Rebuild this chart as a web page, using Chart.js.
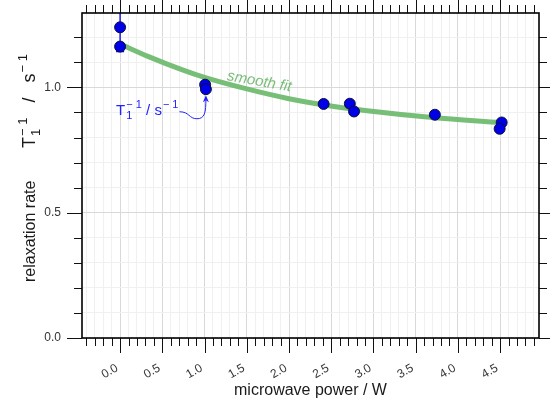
<!DOCTYPE html>
<html>
<head>
<meta charset="utf-8">
<script src="https://cdn.jsdelivr.net/npm/chart.js@4/dist/chart.umd.min.js"></script>
<style>
  html, body { margin: 0; padding: 0; background: #fff; }
  #wrap { width: 550px; height: 402px; }
</style>
</head>
<body>
<div id="wrap"><canvas id="rateChart" width="550" height="402"></canvas></div>
<script>
// measured relaxation rates vs microwave power
var powerW = [0, 0, 1.007, 1.016, 2.41, 2.72, 2.77, 3.727, 4.518, 4.494];
var rateVals = [1.240, 1.163, 1.011, 0.993, 0.934, 0.935, 0.904, 0.891, 0.860, 0.835];
var rateErr = [0.097, 0.015, 0, 0, 0, 0, 0, 0, 0, 0];

// smooth fit curve
var fitPower = [0, 0.33, 0.73, 1.0, 1.5, 2.0, 2.4, 2.9, 3.7, 4.5];
var fitRate = [1.173, 1.124, 1.071, 1.040, 0.994, 0.955, 0.931, 0.908, 0.880, 0.860];

// labelled tick values, minor ticks every 0.1
var xLabelValues = [0, 0.5, 1.0, 1.5, 2.0, 2.5, 3.0, 3.5, 4.0, 4.5];
var yLabelValues = [0, 0.5, 1.0];
var xRange = [-0.451, 4.96];
var yRange = [0, 1.297];

var FONT = "'Liberation Sans', Arial, sans-serif";
var FIT_COLOR = "rgba(112,186,112,0.95)";
var NOTE_COLOR = "#2222ff";

function isLabelled(v, list) {
  for (var i = 0; i < list.length; i++) {
    if (Math.abs(list[i] - v) < 1e-6) return true;
  }
  return false;
}

function isHalf(v) {
  return Math.abs(v * 2 - Math.round(v * 2)) < 1e-6;
}

function minorTicks(lo, hi) {
  var out = [];
  for (var k = Math.ceil(lo * 10); k <= Math.floor(hi * 10); k++) {
    out.push({ value: k / 10 });
  }
  return out;
}

// "T1^-1 / s^-1" with stacked sub/superscript
function drawRateUnit(ctx, x, y, size, small, sup, mid) {
  ctx.font = size + "px " + FONT;
  ctx.fillText("T", x, y);
  x += ctx.measureText("T").width + 1;
  ctx.font = small + "px " + FONT;
  ctx.fillText(sup, x, y - size * 0.42);
  ctx.fillText("1", x, y + size * 0.3);
  x += ctx.measureText(sup).width;
  ctx.font = size + "px " + FONT;
  ctx.fillText(mid, x, y);
  x += ctx.measureText(mid).width + 1;
  ctx.font = small + "px " + FONT;
  ctx.fillText(sup, x, y - size * 0.42);
  x += ctx.measureText(sup).width;
  return x;
}

var framePlugin = {
  id: "frame",
  beforeDatasetDraw: function (chart, args) {
    if (args.index !== 1) return;
    // error bars go under the points
    var ctx = chart.ctx, a = chart.chartArea;
    var xs = chart.scales.x, ys = chart.scales.y;
    ctx.save();
    ctx.beginPath();
    ctx.rect(a.left, a.top, a.right - a.left, a.bottom - a.top);
    ctx.clip();
    ctx.strokeStyle = "#0000ee";
    ctx.lineWidth = 1.3;
    for (var i = 0; i < powerW.length; i++) {
      if (!rateErr[i]) continue;
      var px = xs.getPixelForValue(powerW[i]);
      var y1 = ys.getPixelForValue(rateVals[i] + rateErr[i]);
      var y2 = ys.getPixelForValue(rateVals[i] - rateErr[i]);
      ctx.beginPath();
      ctx.moveTo(px, y1); ctx.lineTo(px, y2);
      ctx.moveTo(px - 4, y1); ctx.lineTo(px + 4, y1);
      ctx.moveTo(px - 4, y2); ctx.lineTo(px + 4, y2);
      ctx.stroke();
    }
    ctx.restore();
  },
  afterDatasetsDraw: function (chart) {
    var ctx = chart.ctx;
    var xs = chart.scales.x, ys = chart.scales.y;

    // fit label along the curve
    ctx.save();
    ctx.translate(xs.getPixelForValue(1.648), ys.getPixelForValue(1.023));
    ctx.rotate(10 * Math.PI / 180);
    ctx.font = "italic 15px " + FONT;
    ctx.fillStyle = FIT_COLOR;
    ctx.textAlign = "center";
    ctx.textBaseline = "middle";
    ctx.fillText("smooth fit", 0, 0);
    ctx.restore();

    // unit note with arrow to the 1 W point
    ctx.save();
    ctx.fillStyle = NOTE_COLOR;
    ctx.strokeStyle = NOTE_COLOR;
    ctx.textBaseline = "alphabetic";
    ctx.textAlign = "left";
    var nx = xs.getPixelForValue(-0.047), ny = ys.getPixelForValue(0.891);
    var endX = drawRateUnit(ctx, nx, ny, 15, 11, "\u2212 1", " / s");
    var sx = endX + 1, sy = ny - 3;
    var tx = xs.getPixelForValue(powerW[3]);
    var ty = ys.getPixelForValue(rateVals[3]) + 6;
    var lowX = tx - 9, lowY = sy + 7;
    ctx.lineWidth = 1;
    ctx.beginPath();
    ctx.moveTo(sx, sy);
    ctx.bezierCurveTo(sx + 10, sy, lowX - 8, lowY, lowX, lowY);
    ctx.bezierCurveTo(tx - 1, lowY, tx, lowY - 6, tx, ty + 3);
    ctx.stroke();
    ctx.beginPath();
    ctx.moveTo(tx, ty);
    ctx.lineTo(tx - 3, ty + 7);
    ctx.lineTo(tx, ty + 5);
    ctx.lineTo(tx + 3, ty + 7);
    ctx.closePath();
    ctx.fill();
    ctx.restore();
  },
  afterDraw: function (chart) {
    var ctx = chart.ctx, a = chart.chartArea;
    var xs = chart.scales.x, ys = chart.scales.y;
    ctx.save();
    ctx.strokeStyle = "#111";
    ctx.lineWidth = 1;
    xs.ticks.forEach(function (t) {
      var px = Math.round(xs.getPixelForValue(t.value)) + 0.5;
      var len = isHalf(t.value) ? 15 : 8;
      ctx.beginPath();
      ctx.moveTo(px, a.bottom); ctx.lineTo(px, a.bottom + len);
      ctx.moveTo(px, a.top); ctx.lineTo(px, a.top - len);
      ctx.stroke();
    });
    ys.ticks.forEach(function (t) {
      var py = Math.round(ys.getPixelForValue(t.value)) + 0.5;
      var len = isHalf(t.value) ? 15 : 8;
      ctx.beginPath();
      ctx.moveTo(a.left, py); ctx.lineTo(a.left - len, py);
      ctx.moveTo(a.right, py); ctx.lineTo(a.right + len, py);
      ctx.stroke();
    });
    ctx.lineWidth = 1.6;
    ctx.strokeStyle = "#000";
    ctx.strokeRect(a.left, a.top, a.right - a.left, a.bottom - a.top);

    // y axis title
    ctx.translate(35, 282);
    ctx.rotate(-Math.PI / 2);
    ctx.fillStyle = "#1a1a1a";
    ctx.textAlign = "left";
    ctx.textBaseline = "alphabetic";
    ctx.font = "16px " + FONT;
    ctx.fillText("relaxation rate", 0, 0);
    drawRateUnit(ctx, 134, 0, 18, 13, "\u2212 1", "   /   s");
    ctx.restore();
  }
};

function gridColor(ctx) {
  var v = ctx.tick ? ctx.tick.value : 0;
  return isHalf(v) ? "#d9d9d9" : "#f0f0f0";
}

var pts = powerW.map(function (p, i) { return { x: p, y: rateVals[i] }; });
var fitPts = fitPower.map(function (p, i) { return { x: p, y: fitRate[i] }; });

new Chart(document.getElementById("rateChart"), {
  type: "scatter",
  data: {
    datasets: [
      {
        type: "line",
        label: "smooth fit",
        data: fitPts,
        showLine: true,
        borderColor: FIT_COLOR,
        borderWidth: 5,
        pointRadius: 0,
        fill: false,
        cubicInterpolationMode: "monotone",
        order: 2
      },
      {
        label: "relaxation rate",
        data: pts,
        pointRadius: 5.5,
        pointBackgroundColor: "#0000e6",
        pointBorderColor: "#10103a",
        pointBorderWidth: 1,
        order: 1
      }
    ]
  },
  options: {
    responsive: false,
    animation: false,
    devicePixelRatio: 1,
    layout: { padding: { top: 13, right: 11, left: 0, bottom: 0 } },
    plugins: { legend: { display: false }, tooltip: { enabled: false } },
    scales: {
      x: {
        type: "linear",
        min: xRange[0],
        max: xRange[1],
        afterBuildTicks: function (scale) { scale.ticks = minorTicks(xRange[0], xRange[1]); },
        afterFit: function (scale) {
          scale.height = 64;
          scale.paddingLeft = 0;
          scale.paddingRight = 0;
        },
        border: { display: false },
        grid: { color: gridColor, lineWidth: 1, tickLength: 8, tickColor: "rgba(0,0,0,0)" },
        ticks: {
          autoSkip: false,
          minRotation: 30,
          maxRotation: 30,
          padding: 15,
          labelOffset: -3,
          color: "#333",
          font: { family: FONT, size: 12 },
          callback: function (v) { return isLabelled(v, xLabelValues) ? v.toFixed(1) : ""; }
        },
        title: {
          display: true,
          text: "microwave power / W",
          color: "#1a1a1a",
          font: { family: FONT, size: 16 },
          padding: { top: 0, bottom: 2 }
        }
      },
      y: {
        type: "linear",
        min: yRange[0],
        max: yRange[1],
        afterBuildTicks: function (scale) { scale.ticks = minorTicks(yRange[0], yRange[1]); },
        afterFit: function (scale) {
          scale.width = 82;
          scale.paddingTop = 0;
          scale.paddingBottom = 0;
        },
        border: { display: false },
        grid: { color: gridColor, lineWidth: 1, tickLength: 8, tickColor: "rgba(0,0,0,0)" },
        ticks: {
          padding: 13,
          color: "#333",
          font: { family: FONT, size: 12 },
          callback: function (v) { return isLabelled(v, yLabelValues) ? v.toFixed(1) : ""; }
        }
      }
    }
  },
  plugins: [framePlugin]
});
</script>
</body>
</html>
